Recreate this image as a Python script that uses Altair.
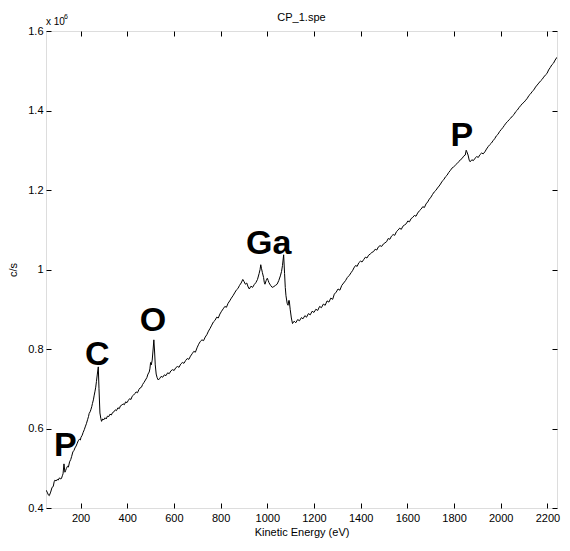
import altair as alt
import pandas as pd

energy = [52, 57, 62, 66, 72, 78, 83, 87, 90, 95, 100, 104, 110, 114, 118, 122, 125, 129, 133, 136,
          139, 144, 148, 153, 158, 162, 167, 172, 176, 181, 186, 190, 195, 199, 202, 207, 211, 216, 220, 225,
          230, 234, 237, 241, 244, 248, 251, 255, 258, 262, 265, 268, 272, 276, 279, 283, 287, 290, 295, 300,
          305, 310, 315, 321, 326, 332, 337, 343, 349, 354, 360, 366, 371, 377, 382, 388, 393, 399, 405, 410,
          416, 421, 427, 433, 438, 444, 450, 455, 461, 466, 472, 478, 484, 489, 494, 497, 500, 503, 507, 511,
          514, 517, 520, 524, 528, 533, 538, 545, 552, 559, 566, 573, 580, 587, 594, 601, 608, 615, 622, 629,
          636, 643, 650, 657, 664, 671, 678, 685, 692, 699, 706, 713, 720, 727, 734, 741, 748, 755, 762, 769,
          776, 783, 790, 797, 804, 811, 818, 825, 832, 839, 846, 853, 860, 867, 874, 881, 888, 895, 900, 906,
          912, 918, 923, 930, 937, 944, 951, 958, 965, 969, 972, 975, 979, 984, 987, 990, 995, 1000, 1004, 1007,
          1014, 1021, 1028, 1035, 1042, 1049, 1056, 1061, 1065, 1070, 1074, 1077, 1080, 1085, 1089, 1092, 1094, 1098, 1103, 1108,
          1115, 1122, 1130, 1138, 1146, 1153, 1161, 1168, 1176, 1184, 1192, 1200, 1208, 1216, 1224, 1232, 1240, 1248, 1256, 1264,
          1272, 1280, 1287, 1295, 1303, 1311, 1319, 1327, 1335, 1343, 1351, 1359, 1366, 1371, 1378, 1385, 1392, 1399, 1406, 1413,
          1420, 1427, 1434, 1441, 1448, 1455, 1462, 1469, 1476, 1483, 1490, 1497, 1504, 1511, 1518, 1525, 1532, 1539, 1546, 1553,
          1560, 1567, 1574, 1581, 1588, 1595, 1602, 1609, 1616, 1623, 1630, 1637, 1644, 1652, 1659, 1666, 1673, 1680, 1687, 1694,
          1701, 1708, 1715, 1722, 1729, 1736, 1742, 1749, 1756, 1763, 1770, 1777, 1784, 1791, 1798, 1805, 1812, 1820, 1827, 1834,
          1841, 1848, 1852, 1855, 1860, 1865, 1869, 1876, 1883, 1890, 1897, 1904, 1911, 1918, 1925, 1932, 1939, 1946, 1953, 1960,
          1967, 1974, 1981, 1988, 1995, 2002, 2009, 2015, 2022, 2029, 2036, 2043, 2050, 2057, 2064, 2071, 2078, 2085, 2092, 2100,
          2107, 2114, 2121, 2128, 2135, 2142, 2149, 2156, 2163, 2170, 2177, 2184, 2191, 2198, 2205, 2212, 2219, 2226, 2233, 2241]

counts = [0.445, 0.440, 0.433, 0.431, 0.440, 0.452, 0.454, 0.466, 0.470, 0.468, 0.472, 0.470, 0.476, 0.473, 0.474, 0.481, 0.486, 0.511, 0.490, 0.494,
          0.499, 0.505, 0.503, 0.516, 0.522, 0.530, 0.541, 0.545, 0.551, 0.556, 0.563, 0.569, 0.573, 0.571, 0.578, 0.583, 0.590, 0.597, 0.604, 0.612,
          0.622, 0.630, 0.638, 0.642, 0.647, 0.655, 0.663, 0.672, 0.682, 0.694, 0.704, 0.718, 0.737, 0.755, 0.700, 0.639, 0.625, 0.618, 0.624, 0.622,
          0.627, 0.624, 0.631, 0.630, 0.636, 0.634, 0.640, 0.642, 0.647, 0.645, 0.652, 0.650, 0.657, 0.659, 0.662, 0.660, 0.667, 0.665, 0.671, 0.675,
          0.673, 0.681, 0.684, 0.688, 0.692, 0.690, 0.698, 0.702, 0.704, 0.711, 0.716, 0.722, 0.728, 0.737, 0.742, 0.750, 0.766, 0.760, 0.772, 0.800,
          0.823, 0.795, 0.760, 0.737, 0.728, 0.722, 0.725, 0.731, 0.729, 0.735, 0.733, 0.740, 0.738, 0.745, 0.748, 0.746, 0.753, 0.756, 0.754, 0.762,
          0.766, 0.764, 0.771, 0.776, 0.774, 0.782, 0.788, 0.794, 0.792, 0.803, 0.812, 0.819, 0.823, 0.821, 0.830, 0.836, 0.845, 0.852, 0.860, 0.868,
          0.872, 0.880, 0.878, 0.888, 0.895, 0.901, 0.907, 0.905, 0.915, 0.921, 0.928, 0.934, 0.941, 0.948, 0.952, 0.960, 0.966, 0.975, 0.970, 0.963,
          0.966, 0.956, 0.951, 0.958, 0.955, 0.962, 0.967, 0.975, 0.990, 1.000, 1.012, 1.003, 0.992, 0.980, 0.968, 0.963, 0.972, 0.978, 0.972, 0.967,
          0.960, 0.955, 0.957, 0.960, 0.963, 0.972, 0.984, 0.995, 1.010, 1.037, 0.990, 0.955, 0.934, 0.915, 0.910, 0.922, 0.922, 0.900, 0.878, 0.864,
          0.870, 0.866, 0.874, 0.871, 0.879, 0.876, 0.884, 0.880, 0.889, 0.886, 0.895, 0.892, 0.900, 0.897, 0.907, 0.904, 0.913, 0.910, 0.921, 0.918,
          0.928, 0.925, 0.938, 0.943, 0.951, 0.948, 0.960, 0.966, 0.972, 0.980, 0.985, 0.992, 0.998, 1.004, 1.010, 1.008, 1.017, 1.021, 1.019, 1.025,
          1.031, 1.029, 1.036, 1.039, 1.043, 1.045, 1.051, 1.049, 1.057, 1.060, 1.058, 1.064, 1.067, 1.070, 1.078, 1.076, 1.084, 1.088, 1.086, 1.095,
          1.099, 1.104, 1.101, 1.109, 1.112, 1.115, 1.122, 1.120, 1.128, 1.131, 1.136, 1.134, 1.142, 1.148, 1.152, 1.158, 1.156, 1.165, 1.170, 1.177,
          1.182, 1.189, 1.195, 1.199, 1.205, 1.210, 1.215, 1.222, 1.226, 1.233, 1.237, 1.244, 1.249, 1.255, 1.258, 1.262, 1.266, 1.271, 1.276, 1.279,
          1.285, 1.288, 1.300, 1.296, 1.288, 1.275, 1.271, 1.276, 1.274, 1.280, 1.284, 1.282, 1.289, 1.293, 1.291, 1.296, 1.303, 1.309, 1.314, 1.318,
          1.324, 1.329, 1.336, 1.340, 1.347, 1.352, 1.357, 1.362, 1.368, 1.372, 1.377, 1.381, 1.386, 1.390, 1.397, 1.401, 1.407, 1.412, 1.417, 1.421,
          1.426, 1.431, 1.438, 1.442, 1.448, 1.452, 1.459, 1.464, 1.469, 1.474, 1.478, 1.484, 1.489, 1.493, 1.502, 1.508, 1.515, 1.519, 1.527, 1.534]

peak_labels = ["P", "C", "O", "Ga", "P"]
peak_x = [135, 272, 510, 1006, 1833]
peak_y = [0.531, 0.760, 0.845, 1.040, 1.310]

x_ticks = [200, 400, 600, 800, 1000, 1200, 1400, 1600, 1800, 2000, 2200]
y_ticks = [0.4, 0.6, 0.8, 1.0, 1.2, 1.4, 1.6]

chart_title = "CP_1.spe"
exponent_base = "x 10"
exponent_power = "6"

assert len(energy) == len(counts)

spec_df = pd.DataFrame({"energy": energy, "counts": counts})
lab_df = pd.DataFrame({"label": peak_labels, "x": peak_x, "y": peak_y})
txt_df = pd.DataFrame({"title": [chart_title], "base": [exponent_base], "power": [exponent_power]})

FONT = "Liberation Sans"
W, H = 511, 477
xscale = alt.Scale(domain=[52, 2241], nice=False, zero=False)
yscale = alt.Scale(domain=[0.4, 1.6], nice=False, zero=False)

common_axis = dict(offset=-5, tickSize=5, domain=False, grid=False, tickColor="black", tickWidth=1,
                   labelFont=FONT, labelFontSize=11, labelColor="black",
                   titleFont=FONT, titleFontSize=11, titleColor="black", titleFontWeight="normal")

line = alt.Chart(spec_df).mark_line(color="black", strokeWidth=1, clip=True).encode(
    x=alt.X("energy:Q", scale=xscale,
            axis=alt.Axis(orient="bottom", values=x_ticks, format="d", title="Kinetic Energy (eV)",
                          labelPadding=4, titlePadding=3, **common_axis)),
    y=alt.Y("counts:Q", scale=yscale,
            axis=alt.Axis(orient="left", values=y_ticks, format="~g", title="c/s",
                          labelPadding=3, titlePadding=9, **common_axis)),
)

frame_axes = alt.Chart(lab_df).mark_point(opacity=0).encode(
    x=alt.X("x:Q", scale=xscale,
            axis=alt.Axis(orient="top", values=x_ticks, labels=False, title="", **common_axis)),
    y=alt.Y("y:Q", scale=yscale,
            axis=alt.Axis(orient="right", values=y_ticks, labels=False, title="", **common_axis)),
)

labels = alt.Chart(lab_df).mark_text(
    font=FONT, fontSize=34, fontWeight="bold", color="black", align="center", baseline="alphabetic"
).encode(
    x=alt.X("x:Q", scale=xscale, axis=None),
    y=alt.Y("y:Q", scale=yscale, axis=None),
    text="label:N",
)

title_txt = alt.Chart(txt_df).mark_text(
    font=FONT, fontSize=11, color="black", align="center", baseline="alphabetic"
).encode(x=alt.value(W / 2), y=alt.value(-10), text="title:N")

exp_base = alt.Chart(txt_df).mark_text(
    font=FONT, fontSize=10, color="black", align="left", baseline="alphabetic", dy=-6
).encode(x=alt.value(0), y=alt.value(0), text="base:N")
exp_pow = alt.Chart(txt_df).mark_text(
    font=FONT, fontSize=7, color="black", align="left", baseline="alphabetic", dx=18, dy=-12
).encode(x=alt.value(0), y=alt.value(0), text="power:N")

chart = alt.layer(line, frame_axes, labels, title_txt, exp_base, exp_pow).resolve_axis(
    x="independent", y="independent"
).properties(
    width=W, height=H,
    padding={"left": 38, "top": 23, "right": 5, "bottom": 30},
    autosize=alt.AutoSizeParams(type="none"),
).configure_view(
    stroke="black", strokeWidth=1
).configure(background="white")

chart.save("out.html", embed_options={"renderer": "svg", "actions": False})
